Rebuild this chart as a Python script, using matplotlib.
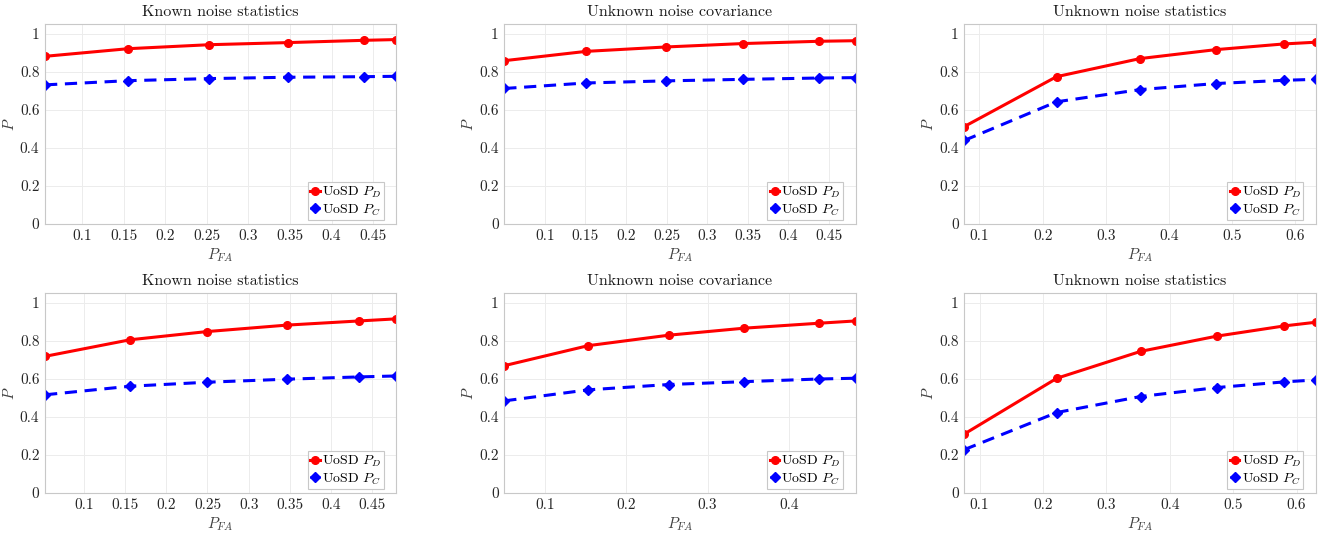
import matplotlib
matplotlib.use("Agg")
import matplotlib.pyplot as plt
from matplotlib.ticker import FuncFormatter

plt.rcParams.update({
    "font.family": "serif", "font.serif": ["cmr10"],
    "mathtext.fontset": "cm", "axes.formatter.use_mathtext": True,
    "font.size": 11,
})

titles = ["Known noise statistics", "Unknown noise covariance", "Unknown noise statistics",
          "Known noise statistics", "Unknown noise covariance", "Unknown noise statistics"]

pfa_tl = [0.055, 0.155, 0.253, 0.347, 0.439, 0.478]
pd_tl = [0.881, 0.921, 0.942, 0.953, 0.965, 0.969]
pc_tl = [0.731, 0.753, 0.764, 0.771, 0.774, 0.776]

pfa_tm = [0.050, 0.151, 0.249, 0.344, 0.438, 0.483]
pd_tm = [0.858, 0.907, 0.930, 0.948, 0.960, 0.963]
pc_tm = [0.712, 0.741, 0.752, 0.760, 0.767, 0.769]

pfa_tr = [0.076, 0.222, 0.354, 0.474, 0.582, 0.632]
pd_tr = [0.512, 0.774, 0.869, 0.916, 0.946, 0.955]
pc_tr = [0.439, 0.642, 0.706, 0.738, 0.755, 0.760]

pfa_bl = [0.053, 0.156, 0.249, 0.346, 0.434, 0.479]
pd_bl = [0.718, 0.805, 0.848, 0.882, 0.904, 0.915]
pc_bl = [0.516, 0.561, 0.582, 0.598, 0.610, 0.615]

pfa_bm = [0.050, 0.153, 0.252, 0.345, 0.437, 0.482]
pd_bm = [0.669, 0.774, 0.829, 0.866, 0.892, 0.904]
pc_bm = [0.484, 0.542, 0.570, 0.585, 0.599, 0.603]

pfa_br = [0.076, 0.222, 0.354, 0.474, 0.581, 0.630]
pd_br = [0.310, 0.603, 0.744, 0.824, 0.878, 0.897]
pc_br = [0.228, 0.423, 0.507, 0.554, 0.584, 0.594]

panels = [(pfa_tl, pd_tl, pc_tl), (pfa_tm, pd_tm, pc_tm), (pfa_tr, pd_tr, pc_tr),
          (pfa_bl, pd_bl, pc_bl), (pfa_bm, pd_bm, pc_bm), (pfa_br, pd_br, pc_br)]

xticks = [[0.1, 0.15, 0.2, 0.25, 0.3, 0.35, 0.4, 0.45],
          [0.1, 0.15, 0.2, 0.25, 0.3, 0.35, 0.4, 0.45],
          [0.1, 0.2, 0.3, 0.4, 0.5, 0.6],
          [0.1, 0.15, 0.2, 0.25, 0.3, 0.35, 0.4, 0.45],
          [0.1, 0.2, 0.3, 0.4],
          [0.1, 0.2, 0.3, 0.4, 0.5, 0.6]]
yticks = [0, 0.2, 0.4, 0.6, 0.8, 1]

fig = plt.figure(figsize=(13.33, 5.33), dpi=100)
lefts = [0.0338, 0.3783, 0.7234]
bottoms = [0.5797, 0.075]
fmt = FuncFormatter(lambda v, p: f"{v:g}")

for i, (x, pd_, pc) in enumerate(panels):
    ax = fig.add_axes([lefts[i % 3], bottoms[i // 3], 0.2635, 0.375])
    ax.plot(x, pd_, color="red", lw=2.2, marker="o", ms=5.5, label=r"UoSD $P_D$")
    ax.plot(x, pc, color="blue", lw=2.2, ls=(0, (4, 2.5)), marker="D", ms=5, label=r"UoSD $P_C$")
    ax.set_xlim(min(x), max(x))
    ax.set_ylim(0, 1.05)
    ax.set_xticks(xticks[i])
    ax.set_yticks(yticks)
    ax.xaxis.set_major_formatter(fmt)
    ax.yaxis.set_major_formatter(fmt)
    ax.grid(True, color="#ececec", lw=0.7)
    ax.set_axisbelow(True)
    for s in ax.spines.values():
        s.set_color("#c8c8c8")
        s.set_linewidth(0.8)
    ax.tick_params(length=0, labelsize=11, colors="#262626", pad=4)
    ax.set_title(titles[i], fontsize=11.5, color="#1a1a1a", pad=6)
    ax.set_xlabel(r"$P_{FA}$", fontsize=11, color="#404040", labelpad=2)
    ax.set_ylabel(r"$P$", fontsize=11, color="#404040", labelpad=2)
    leg = ax.legend(loc="lower right", bbox_to_anchor=(0.965, 0.018), borderaxespad=0,
                    fontsize=10, handlelength=0.7, handletextpad=0.15,
                    borderpad=0.2, labelspacing=0.15, fancybox=False, framealpha=1)
    leg.get_frame().set_edgecolor("#c8c8c8")
    leg.get_frame().set_linewidth(0.8)

fig.savefig("out.png", dpi=100)
